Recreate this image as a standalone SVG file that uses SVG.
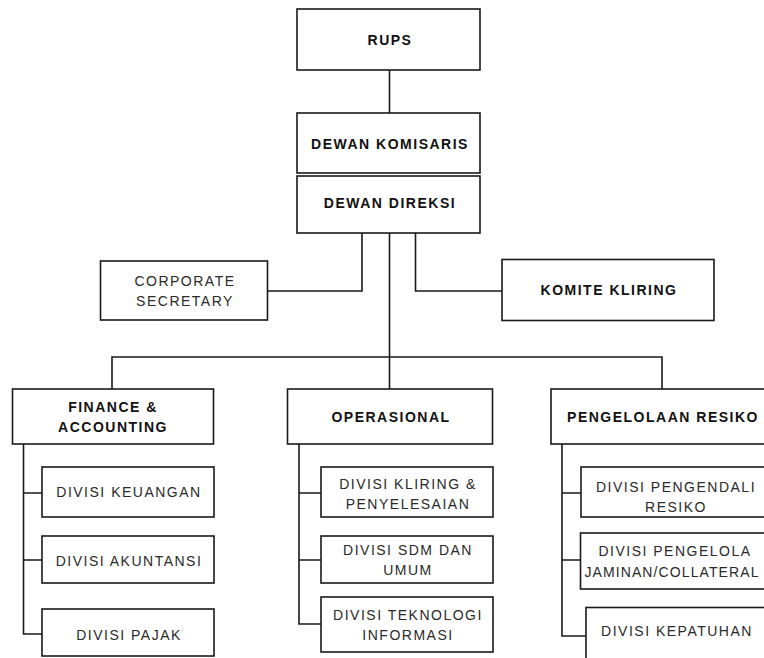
<svg xmlns="http://www.w3.org/2000/svg" width="764" height="658" viewBox="0 0 764 658">
<style>
.box{fill:#fff;stroke:#1a1a1a;stroke-width:1.6}
.ln{fill:none;stroke:#1a1a1a;stroke-width:1.6}
text{font-family:"Liberation Sans",Arial,sans-serif;font-size:14px;letter-spacing:1.5px;text-anchor:middle}
.b{font-weight:bold;fill:#111}
.r{fill:#2a2a2a}
</style>
<rect width="764" height="658" fill="#fff"/>
<g id="connectors">
<path class="ln" d="M389.5,70 V113"/>
<path class="ln" d="M362,233 V291 H268"/>
<path class="ln" d="M415.5,233 V291 H502"/>
<path class="ln" d="M389.5,233 V389"/>
<path class="ln" d="M112,389 V357 H662 V389"/>
<path class="ln" d="M23.5,444 V634 H42 M23.5,493 H42 M23.5,560 H42"/>
<path class="ln" d="M299,444 V624 H321 M299,493 H321 M299,560 H321"/>
<path class="ln" d="M562,444 V636 H586 M562,493 H581 M562,560 H581"/>
</g>
<g id="rups"><rect class="box" x="297" y="9" width="183" height="61"/><text class="b" x="390" y="44.5">RUPS</text></g>
<g id="dewan-komisaris"><rect class="box" x="297" y="113" width="183" height="60"/><text class="b" x="390" y="148.5">DEWAN KOMISARIS</text></g>
<g id="dewan-direksi"><rect class="box" x="297" y="176" width="183" height="57"/><text class="b" x="390" y="207.5">DEWAN DIREKSI</text></g>
<g id="corporate-secretary"><rect class="box" x="100.5" y="261" width="167" height="59"/><text class="r" x="185" y="286">CORPORATE</text><text class="r" x="185" y="306">SECRETARY</text></g>
<g id="komite-kliring"><rect class="box" x="502" y="259.5" width="212" height="61"/><text class="b" x="609" y="294.5">KOMITE KLIRING</text></g>
<g id="finance"><rect class="box" x="12.5" y="389" width="201" height="55"/><text class="b" x="113" y="412">FINANCE &amp;</text><text class="b" x="113" y="432">ACCOUNTING</text></g>
<g id="operasional"><rect class="box" x="287.5" y="389" width="205" height="55"/><text class="b" x="391" y="422">OPERASIONAL</text></g>
<g id="pengelolaan-resiko"><rect class="box" x="551" y="389" width="225" height="55"/><text class="b" x="663" y="422">PENGELOLAAN RESIKO</text></g>
<g id="divisi-keuangan"><rect class="box" x="42" y="467" width="172" height="50"/><text class="r" x="129" y="497">DIVISI KEUANGAN</text></g>
<g id="divisi-akuntansi"><rect class="box" x="42" y="536" width="172" height="47"/><text class="r" x="129" y="565.5">DIVISI AKUNTANSI</text></g>
<g id="divisi-pajak"><rect class="box" x="42" y="609" width="172" height="47"/><text class="r" x="129" y="640">DIVISI PAJAK</text></g>
<g id="divisi-kliring"><rect class="box" x="321" y="467" width="172" height="50"/><text class="r" x="408" y="488.5">DIVISI KLIRING &amp;</text><text class="r" x="408" y="508.5">PENYELESAIAN</text></g>
<g id="divisi-sdm"><rect class="box" x="321" y="536" width="172" height="47"/><text class="r" x="408" y="555">DIVISI SDM DAN</text><text class="r" x="408" y="575">UMUM</text></g>
<g id="divisi-teknologi"><rect class="box" x="321" y="597" width="172" height="55"/><text class="r" x="408" y="620">DIVISI TEKNOLOGI</text><text class="r" x="408" y="640">INFORMASI</text></g>
<g id="divisi-pengendali"><rect class="box" x="581" y="467" width="190" height="50"/><text class="r" x="676" y="492">DIVISI PENGENDALI</text><text class="r" x="676" y="512">RESIKO</text></g>
<g id="divisi-pengelola"><rect class="box" x="580.5" y="533" width="190" height="56"/><text class="r" x="675" y="556">DIVISI PENGELOLA</text><text class="r" x="672" y="577" style="letter-spacing:1.1px">JAMINAN/COLLATERAL</text></g>
<g id="divisi-kepatuhan"><rect class="box" x="586" y="607.5" width="182" height="60"/><text class="r" x="677" y="636">DIVISI KEPATUHAN</text></g>
</svg>
